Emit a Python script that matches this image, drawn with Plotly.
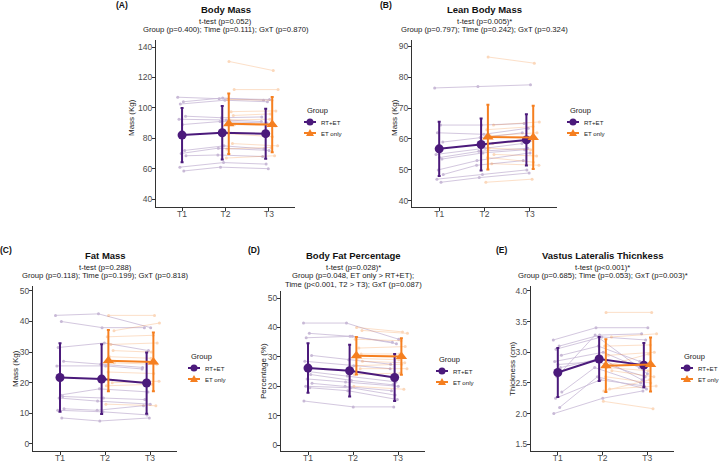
import plotly.graph_objects as go

W, H = 720, 463
PURPLE = "#4B1A7B"
ORANGE = "#F57F20"
FONT = "Liberation Sans, Arial, sans-serif"

times = ["T1", "T2", "T3"]
groups = ["RT+ET", "ET only"]

# (A) body mass, kg  -- individual subjects (T1, T2, T3) / (T2, T3)
bm_rt = [(107, 106, 105.5), (104, 106.5, 105), (102.5, 105, 104), (94.5, 93.5, 94),
         (92.5, 92, 91), (89, 91, 90), (72, 75, 73), (70, 73.5, 72), (68.5, 69, 68),
         (61, 64, 63), (58.5, 61, 60)]
bm_et = [(130.5, 124.5), (112, 112), (105.5, 105), (97.5, 98), (95, 96), (92, 92.5),
         (89, 88), (83, 81), (76.5, 75), (73, 74), (67, 68.5)]
bm_rt_mean = [82.1, 83.6, 83.0]
bm_rt_sd = [17.8, 17.6, 16.4]
bm_et_mean = [89.6, 89.0]
bm_et_sd = [19.9, 18.2]

# (B) lean body mass, kg
lbm_rt = [(76.5, 77, 77.5), (64.5, 64.5, 65), (62, 61.5, 63.5), (59, 60.5, 62),
          (55, 57, 58.5), (54, 56, 57), (53.5, 55.5, 56.5), (50, 53, 55.5),
          (48.5, 51.5, 53), (47, 48.5, 50), (46, 47.5, 49)]
lbm_et = [(86.5, 84.5), (64.5, 65.5), (63, 64), (61, 62), (58.5, 59.5), (57, 56.5),
          (55, 54.5), (54, 52.5), (52, 51.5), (46, 47)]
lbm_rt_mean = [56.8, 58.2, 59.7]
lbm_rt_sd = [8.8, 8.4, 8.3]
lbm_et_mean = [60.6, 60.5]
lbm_et_sd = [10.5, 10.2]

# (C) fat mass, kg
fm_rt = [(42, 42.5, 38), (40, 38, 38), (31.5, 33, 30.5), (27, 26, 25), (25.5, 25.5, 24.5),
         (16, 18, 17), (15.5, 15, 14.5), (15, 14, 13), (11.5, 11, 12.5), (11, 10.5, 9.5),
         (8.5, 7.5, 8.5)]
fm_et = [(42, 42), (37, 39.5), (35, 35.5), (32.5, 33), (30.5, 30), (28.5, 28), (26.5, 26),
         (23.5, 23), (20, 20.5), (19, 19.5), (13, 12.5)]
fm_rt_mean = [21.7, 21.2, 19.9]
fm_rt_sd = [11.2, 11.4, 10.0]
fm_et_mean = [27.2, 26.8]
fm_et_sd = [10.0, 9.6]

# (D) body fat percentage, %
bfp_rt = [(41.5, 41.5, 36), (38, 37, 35), (36.5, 37, 34.5), (30.5, 29, 27.5), (28.5, 27, 26),
          (25, 23.5, 21.5), (24, 22, 20.5), (22.5, 21.5, 20), (21, 20, 18.5), (20, 19.5, 17),
          (19.5, 18.5, 15.5), (15, 13, 13)]
bfp_et = [(40, 38.5), (39, 38), (36, 35.5), (33, 33.5), (31, 31), (29.5, 29), (28.5, 28),
          (27, 27.5), (26, 26), (24, 24.5), (20, 19)]
bfp_rt_mean = [26.2, 25.3, 23.0]
bfp_rt_sd = [8.4, 8.8, 8.0]
bfp_et_mean = [30.4, 30.1]
bfp_et_sd = [6.4, 6.2]

# (E) vastus lateralis thickness, cm
vl_rt = [(3.2, 3.4, 3.4), (3.1, 3.28, 3.3), (3.05, 3.25, 3.2), (2.95, 3.1, 2.85),
         (2.85, 3.0, 2.75), (2.8, 2.85, 2.6), (2.75, 2.9, 2.55), (2.6, 3.28, 2.65),
         (2.35, 2.75, 2.5), (2.25, 2.55, 2.45), (2.1, 2.6, 2.4), (2.0, 2.25, 2.37)]
vl_et = [(3.65, 3.65), (3.25, 3.3), (3.1, 3.12), (2.95, 3.0), (2.8, 2.97), (2.75, 2.7),
         (2.7, 2.6), (2.6, 2.5), (2.4, 2.45), (2.37, 2.55), (2.2, 2.08)]
vl_rt_mean = [2.67, 2.89, 2.79]
vl_rt_sd = [0.40, 0.36, 0.36]
vl_et_mean = [2.78, 2.80]
vl_et_sd = [0.43, 0.44]

# small fixed horizontal spread for the individual points
jit = [-0.10, 0.03, -0.04, 0.08, -0.07, 0.01, 0.06, -0.02, 0.09, -0.05, 0.04, -0.09]
dodge = 0.075


def px(x):
    return x / W


def py(y):
    return 1 - y / H


panels = [
    dict(letter="(A)", title="Body Mass",
         sub=["t-test (p=0.052)", "Group (p=0.400); Time (p=0.111); GxT (p=0.870)"],
         ytitle="Mass (Kg)", rt=bm_rt, et=bm_et, rtm=bm_rt_mean, rts=bm_rt_sd,
         etm=bm_et_mean, ets=bm_et_sd, yr=[34.8, 144.6], tick0=40, dtick=20, fmt="",
         box=(156, 295, 40, 207), let=(122, 5), ttl=(9, 118, 132), leg=(305, 110)),
    dict(letter="(B)", title="Lean Body Mass",
         sub=["t-test (p=0.005)*", "Group (p=0.797); Time (p=0.242); GxT (p=0.324)"],
         ytitle="Mass (Kg)", rt=lbm_rt, et=lbm_et, rtm=lbm_rt_mean, rts=lbm_rt_sd,
         etm=lbm_et_mean, ets=lbm_et_sd, yr=[38, 92], tick0=40, dtick=10, fmt="",
         box=(412, 557, 40, 207), let=(386, 5), ttl=(9, 118, 395), leg=(568, 110)),
    dict(letter="(C)", title="Fat Mass",
         sub=["t-test (p=0.288)", "Group (p=0.118); Time (p=0.199); GxT (p=0.818)"],
         ytitle="Mass (Kg)", rt=fm_rt, et=fm_et, rtm=fm_rt_mean, rts=fm_rt_sd,
         etm=fm_et_mean, ets=fm_et_sd, yr=[-2.3, 51.6], tick0=0, dtick=10, fmt="",
         box=(33, 177, 286, 451), let=(6, 250), ttl=(255, 369, 15), leg=(189, 356)),
    dict(letter="(D)", title="Body Fat Percentage",
         sub=["t-test (p=0.028)*", "Group (p=0.048, ET only > RT+ET);",
              "Time (p<0.001, T2 > T3); GxT (p=0.087)"],
         ytitle="Percentage (%)", rt=bfp_rt, et=bfp_et, rtm=bfp_rt_mean, rts=bfp_rt_sd,
         etm=bfp_et_mean, ets=bfp_et_sd, yr=[-2, 52.4], tick0=0, dtick=10, fmt="",
         box=(281, 425, 291, 451), let=(254, 250), ttl=(255, 371, 263), leg=(437, 359)),
    dict(letter="(E)", title="Vastus Lateralis Thicnkess",
         sub=["t-test (p<0.001)*", "Group (p=0.685); Time (p=0.053); GxT (p=0.003)*"],
         ytitle="Thickness (cm)", rt=vl_rt, et=vl_et, rtm=vl_rt_mean, rts=vl_rt_sd,
         etm=vl_et_mean, ets=vl_et_sd, yr=[1.39, 4.08], tick0=1.5, dtick=0.5, fmt=".1f",
         box=(531, 674, 286, 451), let=(502, 250), ttl=(255, 369, 512), leg=(682, 356)),
]

fig = go.Figure()
annotations = []
shapes = []
layout = {}

for n, p in enumerate(panels, start=1):
    xa = "x" if n == 1 else f"x{n}"
    ya = "y" if n == 1 else f"y{n}"

    # individual trajectories, RT+ET
    xs, ys = [], []
    for i, subj in enumerate(p["rt"]):
        for k, v in enumerate(subj):
            shift = 0 if k == 0 else -dodge
            xs.append(k + 1 + shift + jit[(i + 4 * k) % len(jit)])
            ys.append(v)
        xs.append(None)
        ys.append(None)
    fig.add_trace(go.Scatter(x=xs, y=ys, xaxis=xa, yaxis=ya, mode="lines+markers",
                             line=dict(color=PURPLE, width=0.8), marker=dict(size=3),
                             opacity=0.3, showlegend=False, hoverinfo="skip"))

    # individual trajectories, ET only
    xs, ys = [], []
    for i, subj in enumerate(p["et"]):
        for k, v in enumerate(subj):
            xs.append(k + 2 + 0.12 + jit[(i + 5 * k + 2) % len(jit)])
            ys.append(v)
        xs.append(None)
        ys.append(None)
    fig.add_trace(go.Scatter(x=xs, y=ys, xaxis=xa, yaxis=ya, mode="lines+markers",
                             line=dict(color=ORANGE, width=0.8), marker=dict(size=3),
                             opacity=0.3, showlegend=False, hoverinfo="skip"))

    # group means +/- SD
    fig.add_trace(go.Scatter(x=[1, 2 - dodge, 3 - dodge], y=p["rtm"], xaxis=xa, yaxis=ya,
                             mode="lines+markers", name=groups[0], showlegend=False,
                             line=dict(color=PURPLE, width=2),
                             marker=dict(symbol="circle", size=9, color=PURPLE),
                             error_y=dict(type="data", array=p["rts"], color=PURPLE,
                                          thickness=2, width=1.5)))
    fig.add_trace(go.Scatter(x=[2 + dodge, 3 + dodge], y=p["etm"], xaxis=xa, yaxis=ya,
                             mode="lines+markers", name=groups[1], showlegend=False,
                             line=dict(color=ORANGE, width=2),
                             marker=dict(symbol="triangle-up", size=10, color=ORANGE),
                             error_y=dict(type="data", array=p["ets"], color=ORANGE,
                                          thickness=2, width=1.5)))

    x0, x1, y0, y1 = p["box"]
    axis_common = dict(showline=True, linecolor="#333333", linewidth=1, ticks="outside",
                       ticklen=3, tickcolor="#333333", showgrid=False, zeroline=False,
                       tickfont=dict(family=FONT, size=8.5, color="#4D4D4D"),
                       fixedrange=True)
    layout["xaxis" if n == 1 else f"xaxis{n}"] = dict(
        domain=[px(x0), px(x1)], anchor=ya, range=[0.4, 3.6], ticklabelstandoff=-4,
        tickvals=[1, 2, 3], ticktext=times, **axis_common)
    layout["yaxis" if n == 1 else f"yaxis{n}"] = dict(
        domain=[py(y1), py(y0)], anchor=xa, range=p["yr"], tick0=p["tick0"],
        dtick=p["dtick"], tickformat=p["fmt"], ticklabelstandoff=-2, **axis_common)

    # legend drawn by hand so it stays compact like the original
    gx, gy = p["leg"]
    annotations.append(dict(x=px(gx), y=py(gy), text="Group", xanchor="left",
                            font=dict(family=FONT, size=7.5, color="#222")))
    for j, (name, col) in enumerate(zip(groups, [PURPLE, ORANGE])):
        ry = gy + 12 + 11 * j
        anchor = dict(xref="paper", yref="paper", xsizemode="pixel", ysizemode="pixel",
                      xanchor=px(gx + 5), yanchor=py(ry))
        shapes.append(dict(type="line", x0=-6, x1=6, y0=0, y1=0,
                           line=dict(color=col, width=2), **anchor))
        if j == 0:
            shapes.append(dict(type="circle", x0=-3.5, x1=3.5, y0=-3.5, y1=3.5,
                               fillcolor=col, line=dict(width=0), **anchor))
        else:
            shapes.append(dict(type="path", path="M -4,-3 L 4,-3 L 0,4 Z",
                               fillcolor=col, line=dict(width=0), **anchor))
        annotations.append(dict(x=px(gx + 14), y=py(ry), text=name, xanchor="left",
                                font=dict(family=FONT, size=6.1, color="#222")))

    # titles and labels
    cx = (x0 + x1) / 2
    ty, aty, atx = p["ttl"]
    lx_, ly_ = p["let"]
    annotations.append(dict(x=px(lx_), y=py(ly_), text="<b>" + p["letter"] + "</b>",
                            font=dict(family=FONT, size=8.5, color="#111")))
    annotations.append(dict(x=px(cx), y=py(ty), text="<b>" + p["title"] + "</b>",
                            font=dict(family=FONT, size=9.5, color="#111")))
    for j, line in enumerate(p["sub"]):
        annotations.append(dict(x=px(cx), y=py(ty + 12.5 + 8.3 * j), text=line,
                                font=dict(family=FONT, size=7.7, color="#222")))
    annotations.append(dict(x=px(atx), y=py(aty), text=p["ytitle"], textangle=-90,
                            font=dict(family=FONT, size=8, color="#222")))

for a in annotations:
    a.setdefault("xanchor", "center")
    a.update(xref="paper", yref="paper", showarrow=False, yanchor="middle")

fig.update_layout(width=W, height=H, margin=dict(l=0, r=0, t=0, b=0),
                  paper_bgcolor="white", plot_bgcolor="white", showlegend=False,
                  font=dict(family=FONT), annotations=annotations, shapes=shapes, **layout)

# page has an 8px default body margin; drop it so the figure sits at the top-left corner
fig.write_html("out.html", config={"displayModeBar": False},
               post_script="document.body.style.margin='0';")
